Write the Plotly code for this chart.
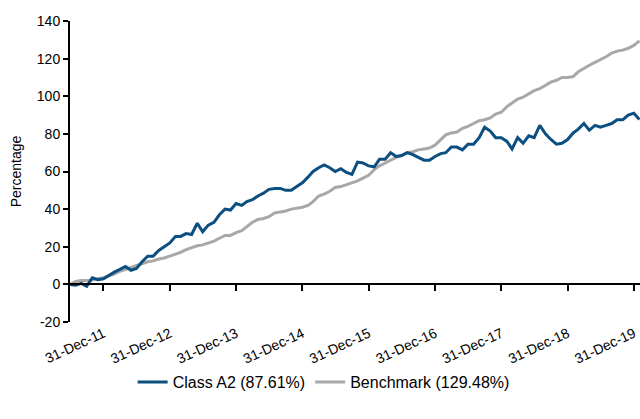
import pandas as pd
import plotly.graph_objects as go

# Monthly month-end dates, Jun 2011 .. Jan 2020
dates = pd.date_range("2011-06-30", "2020-01-31", freq="ME")

class_a2 = [0, -0.5, 0.5, -1, 3.5, 2.5, 3, 5, 6.5, 8, 9.5, 7.5, 8.5, 12, 15, 15, 18, 20, 22,
            25.5, 25.5, 27, 26.5, 32.5, 28, 31.5, 33, 37, 40, 39.5, 43, 42, 44, 45, 47, 48.5,
            50.5, 51, 51, 50, 50, 52, 54, 57, 60, 62, 63.5, 62, 60, 61.5, 59.5, 58.5, 65, 64.5,
            63, 62.5, 66.5, 66.5, 70, 68, 68.5, 70, 69, 67.5, 66, 66, 68, 69.5, 70, 73, 73, 71.5,
            74.5, 74.5, 78, 83.5, 81.5, 78, 78, 76, 72, 78, 75, 79, 78, 84.5, 80, 77, 74.5, 75,
            77, 80.5, 82.5, 85.5, 82, 84.5, 83.5, 84.5, 85.5, 87.5, 87.5, 90, 91, 87.61]

benchmark = [0, 1.5, 2, 2, 2.5, 3, 3.5, 4.5, 5.5, 7, 8, 9, 10, 11, 12, 12.5, 13.5, 14, 15,
             16, 17, 18.5, 19.5, 20.5, 21, 22, 23, 24.5, 26, 26, 27.5, 28.5, 30.5, 33, 34.5, 35,
             36, 38, 38.5, 39, 40, 40.5, 41, 42, 44, 47, 48, 49.5, 51.5, 52, 53, 54, 55, 56.5,
             58, 61, 63, 64.5, 66, 67.5, 68.5, 70, 70.5, 71.5, 72, 72.5, 74, 77, 79.5, 80.5, 81,
             83, 84, 85.5, 87, 87.5, 88.5, 90.5, 91.5, 94.5, 96.5, 98.5, 99.5, 101.5, 103, 104,
             106, 107.5, 108.5, 110, 110, 110.5, 113, 115, 116.5, 118, 119.5, 121, 123, 124,
             124.5, 125.5, 127, 129.48]

tick_dates = ["2011-12-31", "2012-12-31", "2013-12-31", "2014-12-31", "2015-12-31",
              "2016-12-31", "2017-12-31", "2018-12-31", "2019-12-31"]
tick_text = ["31-Dec-11", "31-Dec-12", "31-Dec-13", "31-Dec-14", "31-Dec-15",
             "31-Dec-16", "31-Dec-17", "31-Dec-18", "31-Dec-19"]
y_ticks = [-20, 0, 20, 40, 60, 80, 100, 120, 140]
y_tick_text = ["-20", "0", "20", "40", "60", "80", "100", "120", "140"]

BLUE = "#0b4f80"
GREY = "#a8a8a8"
FONT = "Liberation Sans, Arial, sans-serif"

fig = go.Figure()
fig.add_trace(go.Scatter(x=dates, y=benchmark, mode="lines", name="Benchmark (129.48%)",
                         line=dict(color=GREY, width=3), xaxis="x"))
fig.add_trace(go.Scatter(x=dates, y=class_a2, mode="lines", name="Class A2 (87.61%)",
                         line=dict(color=BLUE, width=3), xaxis="x"))
# invisible helper trace to register the label axis
fig.add_trace(go.Scatter(x=dates, y=benchmark, mode="lines", showlegend=False,
                         hoverinfo="skip", opacity=0, line=dict(width=0), xaxis="x2"))

x_range = ["2011-06-30", "2020-02-03"]
ymin, ymax = -20, 140

fig.update_layout(
    width=640, height=419,
    margin=dict(l=70, r=0, t=21, b=97),
    paper_bgcolor="white", plot_bgcolor="white",
    font=dict(family=FONT, size=14, color="black"),
    showlegend=True,
    legend=dict(orientation="h", x=0.445, xanchor="center", y=-0.2, yanchor="middle",
                traceorder="reversed", font=dict(size=16), itemwidth=30),
    xaxis=dict(range=x_range, anchor="free", position=(0 - ymin) / (ymax - ymin),
               showline=True, linecolor="black", linewidth=2, automargin=False,
               ticks="outside", ticklen=6, tickwidth=2, tickcolor="black",
               tickvals=tick_dates, showticklabels=False, showgrid=False, zeroline=False),
    xaxis2=dict(range=x_range, overlaying="x", anchor="y", side="bottom", automargin=False,
                showline=False, ticks="", tickvals=tick_dates, ticktext=tick_text,
                tickangle=-25, showgrid=False, zeroline=False,
                tickfont=dict(size=14)),
    yaxis=dict(range=[ymin, ymax], tickvals=y_ticks, ticktext=y_tick_text, showline=True,
               linecolor="black", linewidth=2, ticks="outside", ticklen=5, tickwidth=2,
               tickcolor="black", showgrid=False, zeroline=False, tickfont=dict(size=14),
               automargin=False,
               title=dict(text="Percentage", font=dict(size=14), standoff=12)),
)

fig.write_html("out.html", config={"displayModeBar": False},
               post_script="document.body.style.margin='0';document.body.style.overflow='hidden';")
